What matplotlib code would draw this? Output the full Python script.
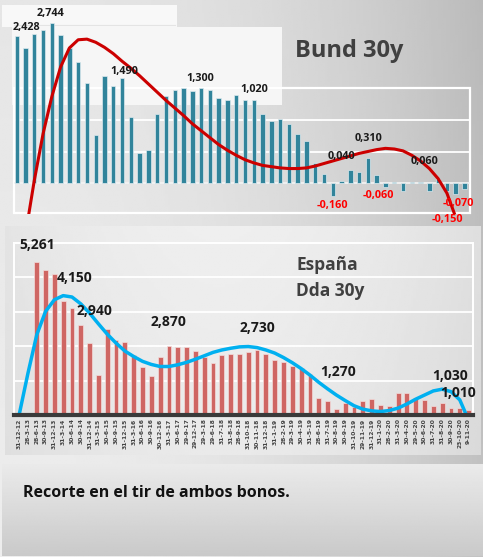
import numpy as np
import matplotlib
matplotlib.use("Agg")
import matplotlib.pyplot as plt
from matplotlib.patches import Rectangle

plt.rcParams['font.family'] = ['Open Sans', 'DejaVu Sans']

# ---- data ----
dates = ["31-12-12", "28-3-13", "28-6-13", "30-9-13", "31-12-13", "31-3-14", "30-6-14",
         "30-9-14", "31-12-14", "31-3-15", "30-6-15", "30-9-15", "31-12-15", "31-3-16",
         "30-6-16", "30-9-16", "30-12-16", "31-3-17", "30-6-17", "29-9-17", "29-12-17",
         "29-3-18", "29-6-18", "31-7-18", "31-8-18", "28-9-18", "31-10-18", "30-11-18",
         "31-12-18", "31-1-19", "28-2-19", "29-3-19", "30-4-19", "31-5-19", "28-6-19",
         "31-7-19", "30-8-19", "30-9-19", "31-10-19", "29-11-19", "31-12-19", "31-1-20",
         "28-2-20", "31-3-20", "30-4-20", "29-5-20", "30-6-20", "31-7-20", "31-8-20",
         "30-9-20", "23-10-20", "9-11-20"]

bund = [2.33, 2.14, 2.36, 2.42, 2.54, 2.34, 2.14, 1.92, 1.58, 0.76,
        1.70, 1.53, 1.66, 1.04, 0.47, 0.53, 1.10, 1.38, 1.47, 1.51,
        1.46, 1.51, 1.47, 1.35, 1.32, 1.40, 1.32, 1.32, 1.10, 0.98,
        1.01, 0.93, 0.78, 0.67, 0.31, 0.14, -0.20, 0.04, 0.21, 0.17,
        0.39, 0.12, -0.07, 0.02, -0.12, 0.02, 0.02, -0.12, 0.07, -0.12,
        -0.18, -0.09]
bund_trend = [-1.6, -0.81, 0.04, 0.78, 1.37, 1.84, 2.14, 2.27, 2.28, 2.23,
              2.15, 2.05, 1.93, 1.82, 1.70, 1.57, 1.44, 1.31, 1.19, 1.07,
              0.94, 0.83, 0.72, 0.61, 0.52, 0.44, 0.37, 0.32, 0.28, 0.26,
              0.24, 0.23, 0.23, 0.24, 0.27, 0.31, 0.35, 0.39, 0.43, 0.47,
              0.50, 0.53, 0.55, 0.54, 0.51, 0.44, 0.35, 0.23, 0.07, -0.16,
              -0.54, -1.0]
bund_labels = ["2,428", "2,744", "1,490", "1,300", "1,020", "0,040", "0,310", "0,060",
               "-0,160", "-0,060", "-0,070", "-0,150"]

spain = [0, 0,
         4.45, 4.22, 4.11, 3.32, 3.11, 2.61, 2.09, 1.15, 2.50, 2.17,
         2.13, 1.75, 1.39, 1.14, 1.68, 2.02, 1.97, 1.97, 1.87, 1.68,
         1.50, 1.73, 1.78, 1.78, 1.83, 1.89, 1.76, 1.59, 1.55, 1.41,
         1.37, 1.18, 0.50, 0.41, 0.17, 0.34, 0.24, 0.42, 0.47, 0.30,
         0.27, 0.65, 0.65, 0.50, 0.44, 0.26, 0.35, 0.21, 0.20, 0.15]
spain_trend = [0.0, 1.21, 2.33, 3.01, 3.35, 3.47, 3.43, 3.23, 2.96, 2.65,
               2.35, 2.09, 1.86, 1.70, 1.56, 1.47, 1.41, 1.41, 1.46, 1.53,
               1.62, 1.72, 1.82, 1.89, 1.94, 1.98, 1.99, 1.96, 1.89, 1.80,
               1.67, 1.52, 1.35, 1.16, 0.95, 0.76, 0.58, 0.42, 0.27, 0.17,
               0.12, 0.10, 0.13, 0.20, 0.32, 0.46, 0.58, 0.70, 0.75, 0.68,
               0.44, -0.15]
spain_labels = ["5,261", "4,150", "2,940", "2,870", "2,730", "1,270", "1,030", "1,010"]

# label placement (category index, y)
bund_lab_pos = [(1.06, 2.47), (3.8, 2.69), (12.3, 1.77), (20.9, 1.65), (27.1, 1.49),
                (37.0, 0.42), (40.1, 0.71), (46.5, 0.34),
                (36.0, -0.36), (41.2, -0.20), (50.3, -0.33), (49.0, -0.58)]
spain_lab_pos = [(2.0, 4.93), (6.3, 3.97), (8.6, 3.02), (16.9, 2.71), (27.0, 2.52),
                 (36.2, 1.26), (48.9, 1.14), (49.8, 0.64)]

W, H = 483, 557


def px_rect(x0, y0, x1, y1):
    return [x0 / W, 1 - y1 / H, (x1 - x0) / W, (y1 - y0) / H]


fig = plt.figure(figsize=(W / 100, H / 100), dpi=100)

# gray background
bg = fig.add_axes([0, 0, 1, 1], zorder=-1)
GX, GY = np.meshgrid(np.linspace(0, 1, 200), np.linspace(0, 1, 200))
grad = 0.93 - 0.17 * GX ** 2.2 - 0.03 * GY
bg.imshow(grad, cmap='gray', vmin=0, vmax=1, extent=[0, 1, 0, 1], aspect='auto')
bg.set_xlim(0, 1)
bg.set_ylim(1, 0)
bg.axis('off')

# ---- Bund 30y ----
x = np.arange(len(dates))
ax1 = fig.add_axes(px_rect(14, 0, 470, 214), zorder=1)
ax1.set_xlim(-0.31, 51.63)
ax1.set_ylim(-0.49, 2.9)
ax1.axis('off')

# light boxes behind the bars
fx = lambda p: (p - 14) / 456
fy = lambda p: 1 - p / 214
ax1.add_patch(Rectangle((fx(2), fy(27)), fx(177) - fx(2), fy(5) - fy(27),
                        transform=ax1.transAxes, facecolor='#f8f8f8', edgecolor='none',
                        zorder=0, clip_on=False))
ax1.add_patch(Rectangle((fx(12), fy(105)), fx(282) - fx(12), fy(27) - fy(105),
                        transform=ax1.transAxes, facecolor='#f6f6f6', edgecolor='none',
                        zorder=0, clip_on=False))
ax1.add_patch(Rectangle((fx(14), fy(213)), fx(470) - fx(14), fy(88) - fy(213),
                        transform=ax1.transAxes, facecolor='none', edgecolor='white',
                        lw=1.6, zorder=1, clip_on=False))
for g in [0.5, 1.0]:
    ax1.axhline(g, color='white', lw=1.3, zorder=1)
ax1.axhline(0, color='#f4f4f4', lw=1.2, zorder=1)
ax1.plot([-0.31, 18], [2.5, 2.5], color='#e4e4e4', lw=0.8, zorder=1)

ax1.bar(x, bund, width=0.5, color='#31849b', edgecolor='#dbe9ee', linewidth=0.5, zorder=2)
ax1.plot(x, bund_trend, color='#cc0000', lw=2.2, zorder=3, solid_capstyle='round')

fig.text(295 / W, 1 - 51 / H, "Bund 30y", fontsize=17, fontweight='bold',
         color='#404040', ha='left', va='center')

for lab, (lx, ly) in zip(bund_labels, bund_lab_pos):
    col = '#ff0000' if lab.startswith('-') else '#1a1a1a'
    ax1.text(lx, ly, lab, ha='center', va='center', fontsize=7.8,
             fontweight='bold', color=col, zorder=4)

# ---- España panel ----
pan = fig.add_axes(px_rect(5, 226, 481, 455), zorder=2)
PX, PY = np.meshgrid(np.linspace(0, 1, 200), np.linspace(0, 1, 100))
pgrad = 0.935 - 0.08 * (np.abs(PX - 0.45) * 1.6) ** 2 - 0.02 * PY
pan.imshow(pgrad, cmap='gray', vmin=0, vmax=1, extent=[0, 1, 0, 1], aspect='auto')
pan.axis('off')

ax2 = fig.add_axes(px_rect(14, 243, 473, 415), zorder=3)
ax2.set_facecolor('none')
ax2.set_xlim(-0.58, 51.5)
ax2.set_ylim(0, 5)
for g in [1, 2, 3, 4]:
    ax2.axhline(g, color='white', lw=1.3, zorder=1)
for s in ['left', 'right', 'top']:
    ax2.spines[s].set_color('white')
    ax2.spines[s].set_linewidth(1.4)
ax2.spines['bottom'].set_color('#3a3a3a')
ax2.spines['bottom'].set_linewidth(3)
ax2.spines['bottom'].set_zorder(5)
ax2.set_yticks([])
ax2.bar(x, spain, width=0.55, color='#cf6663', edgecolor='#f3dcdb', linewidth=0.5, zorder=2)
ax2.plot(x, spain_trend, color='#00b0f0', lw=2.5, zorder=3, solid_capstyle='round')
ax2.set_xticks(x)
ax2.set_xticklabels(dates, rotation=90, fontsize=4.3, fontweight='bold',
                    color='#444444', family=['DejaVu Sans'])
ax2.tick_params(axis='x', length=0, pad=2.5)

for lab, (lx, ly) in zip(spain_labels, spain_lab_pos):
    ax2.text(lx, ly, lab, ha='center', va='center', fontsize=10,
             fontweight='bold', color='#1a1a1a', zorder=4)

fig.text(296 / W, 1 - 265 / H, "España", fontsize=12.5, fontweight='bold',
         color='#404040', ha='left', va='center', zorder=6)
fig.text(296 / W, 1 - 291 / H, "Dda 30y", fontsize=12.5, fontweight='bold',
         color='#404040', ha='left', va='center', zorder=6)

# ---- bottom note ----
note = fig.add_axes(px_rect(2, 464, 483, 556), zorder=2)
ny = np.linspace(0, 1, 100)[:, None] * np.ones((1, 10))
note.imshow(0.92 - 0.13 * ny, cmap='gray', vmin=0, vmax=1, extent=[0, 1, 0, 1],
            aspect='auto')
note.axis('off')
fig.text(23 / W, 1 - 493 / H, "Recorte en el tir de ambos bonos.", fontsize=11.5,
         fontweight='bold', color='#111111', ha='left', va='center', zorder=6)

fig.savefig("out.png", dpi=100)
